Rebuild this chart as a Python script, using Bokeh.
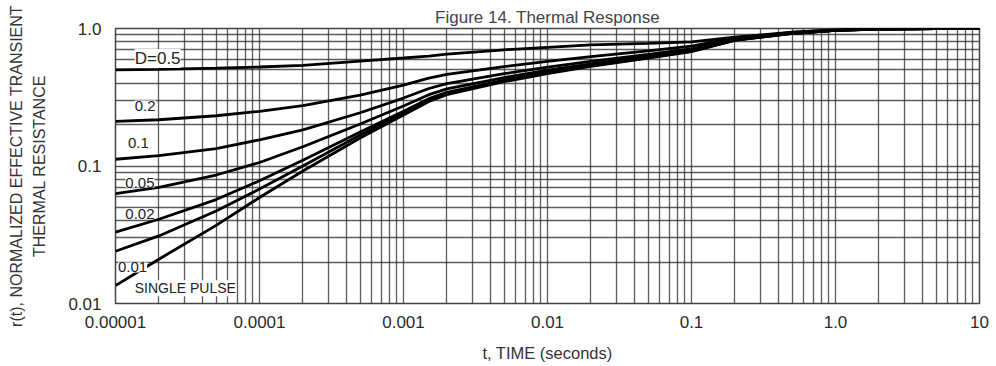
from bokeh.plotting import figure
from bokeh.models import FixedTicker, Label, Title
from bokeh.embed import file_html
from bokeh.resources import INLINE

# Time points (seconds) at which the curves are tabulated
time_s = [1e-5, 2e-5, 5e-5, 1e-4, 2e-4, 5e-4, 1e-3, 1.5e-3, 2e-3, 5e-3,
          1e-2, 2e-2, 5e-2, 0.1, 0.2, 0.5, 1.0, 2.0, 5.0, 10.0]

# Normalized effective transient thermal resistance r(t) per duty cycle
r_d050 = [0.500, 0.505, 0.515, 0.525, 0.540, 0.580, 0.610, 0.630, 0.650, 0.700,
          0.730, 0.760, 0.780, 0.800, 0.865, 0.940, 0.978, 0.993, 1.000, 1.000]
r_d020 = [0.211, 0.217, 0.232, 0.250, 0.275, 0.328, 0.388, 0.436, 0.464, 0.528,
          0.576, 0.624, 0.688, 0.744, 0.855, 0.935, 0.975, 0.992, 1.000, 1.000]
r_d010 = [0.112, 0.119, 0.134, 0.155, 0.183, 0.244, 0.312, 0.366, 0.397, 0.469,
          0.523, 0.577, 0.649, 0.712, 0.840, 0.930, 0.972, 0.991, 1.000, 1.000]
r_d005 = [0.063, 0.070, 0.086, 0.106, 0.138, 0.202, 0.273, 0.330, 0.364, 0.440,
          0.497, 0.554, 0.630, 0.696, 0.830, 0.925, 0.970, 0.990, 1.000, 1.000]
r_d002 = [0.033, 0.041, 0.057, 0.078, 0.110, 0.177, 0.250, 0.309, 0.343, 0.422,
          0.481, 0.539, 0.618, 0.686, 0.824, 0.920, 0.970, 0.990, 1.000, 1.000]
r_d001 = [0.024, 0.031, 0.047, 0.068, 0.100, 0.168, 0.243, 0.302, 0.337, 0.416,
          0.475, 0.535, 0.614, 0.683, 0.822, 0.920, 0.970, 0.990, 1.000, 1.000]
r_single = [0.0135, 0.021, 0.037, 0.059, 0.092, 0.160, 0.235, 0.295, 0.330, 0.410,
            0.470, 0.530, 0.610, 0.680, 0.820, 0.920, 0.970, 0.990, 1.000, 1.000]

series = [r_d050, r_d020, r_d010, r_d005, r_d002, r_d001, r_single]
curve_names = ["D=0.5", "0.2", "0.1", "0.05", "0.02", "0.01", "SINGLE PULSE"]

# Tick values and their printed labels
x_ticks = [1e-5, 1e-4, 1e-3, 1e-2, 1e-1, 1.0, 10.0]
x_tick_labels = ["0.00001", "0.0001", "0.001", "0.01", "0.1", "1.0", "10"]
y_ticks = [0.01, 0.1, 1.0]
y_tick_labels = ["0.01", "0.1", "1.0"]

FONT = "Liberation Sans"

p = figure(width=996, height=366, x_axis_type="log", y_axis_type="log",
           x_range=(1e-5, 10.0), y_range=(0.01, 1.0),
           output_backend="svg", toolbar_location=None,
           min_border_left=115, min_border_right=17,
           min_border_top=28, min_border_bottom=63)

p.title.text = "Figure 14. Thermal Response"
p.title.align = "center"
p.title.text_font = FONT
p.title.text_font_style = "normal"
p.title.text_font_size = "17px"
p.title.text_color = "#444444"
p.title.standoff = 4

# 1-2-...-9 minor lines in every decade
def minor_for(decades):
    out = []
    for d in decades:
        for m in range(2, 10):
            out.append(m * 10.0 ** d)
    return out

x_minor = minor_for(range(-5, 1))
y_minor = minor_for(range(-2, 0))

p.xaxis.ticker = FixedTicker(ticks=x_ticks, minor_ticks=x_minor)
p.yaxis.ticker = FixedTicker(ticks=y_ticks, minor_ticks=y_minor)
p.xaxis.major_label_overrides = {t: s for t, s in zip(x_ticks, x_tick_labels)}
p.yaxis.major_label_overrides = {t: s for t, s in zip(y_ticks, y_tick_labels)}

for ax in (p.xaxis, p.yaxis):
    ax.axis_line_color = None
    ax.major_tick_line_color = None
    ax.minor_tick_line_color = None
    ax.major_label_text_font = FONT
    ax.major_label_text_font_size = "17px"
    ax.major_label_text_color = "#2a2a2a"
p.xaxis.major_label_standoff = 6
p.yaxis.major_label_standoff = 8

p.xaxis.axis_label = "t, TIME (seconds)"
p.xaxis.axis_label_text_font = FONT
p.xaxis.axis_label_text_font_style = "normal"
p.xaxis.axis_label_text_font_size = "16.5px"
p.xaxis.axis_label_text_color = "#333333"
p.xaxis.axis_label_standoff = 13

# Two-line vertical axis title: inner line as the axis label, outer line as a side title
p.yaxis.axis_label = "THERMAL RESISTANCE"
p.yaxis.axis_label_text_font = FONT
p.yaxis.axis_label_text_font_style = "normal"
p.yaxis.axis_label_text_font_size = "16px"
p.yaxis.axis_label_text_color = "#333333"
p.yaxis.axis_label_standoff = 17

p.add_layout(Title(text="r(t), NORMALIZED EFFECTIVE TRANSIENT", align="center",
                   text_font=FONT, text_font_style="normal", text_font_size="16px",
                   text_color="#333333", standoff=8), "left")

for g in (p.xgrid, p.ygrid):
    g.grid_line_color = "#333333"
    g.grid_line_alpha = 0.8
    g.grid_line_width = 1.3
    g.minor_grid_line_color = "#333333"
    g.minor_grid_line_alpha = 0.8
    g.minor_grid_line_width = 1.3

p.outline_line_color = "#444444"
p.outline_line_width = 1.5
p.background_fill_color = "white"

for ys in series:
    p.line(time_s, ys, line_color="black", line_width=2.8)

# Curve tags (left-aligned, vertically centred at the given point)
tag_x = [1.36e-5, 1.36e-5, 1.22e-5, 1.17e-5, 1.17e-5, 1.04e-5, 1.36e-5]
tag_y = [0.605, 0.275, 0.148, 0.0758, 0.0451, 0.0183, 0.0129]
tag_size = ["17px", "15px", "15px", "15px", "15px", "15px", "14px"]
for name, tx, ty, sz in zip(curve_names, tag_x, tag_y, tag_size):
    p.add_layout(Label(x=tx, y=ty, text=name, text_font=FONT, text_font_size=sz,
                       text_color="#222222", text_baseline="middle", text_align="left",
                       background_fill_color="white", background_fill_alpha=1.0))

open("out.html", "w").write(file_html(p, INLINE))
